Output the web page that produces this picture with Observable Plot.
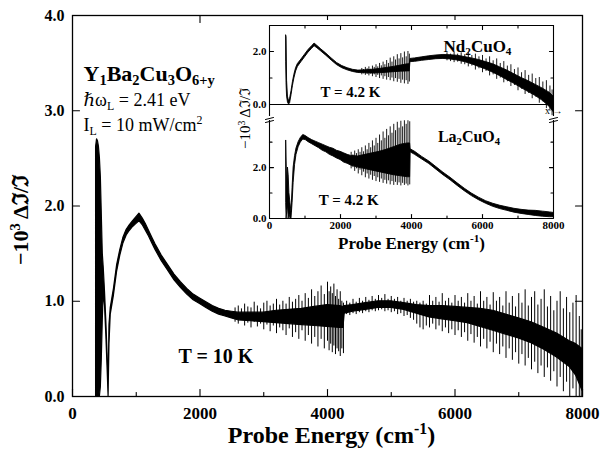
<!DOCTYPE html>
<html><head><meta charset="utf-8">
<script src="https://cdn.jsdelivr.net/npm/d3@7"></script>
<script src="https://cdn.jsdelivr.net/npm/@observablehq/plot@0.6"></script>
<style>
body{margin:0;background:#fff;}
#wrap{position:relative;width:600px;height:456px;overflow:hidden;background:#fff;}
#wrap svg{position:absolute;overflow:visible;}
</style></head><body><div id="wrap"></div>
<script>
// ---------------- main panel: Y1Ba2Cu3O6+y, T = 10 K (core band) ----------------
const mainX  = [370,385,400,415,430,445,460,475,490,510,530,550,566,580,600,650,700,750,800,850,900,950,1000,1050,1100,1150,1200,1250,1300,1350,1400,1450,1500,1600,1700,1800,1900,2000,2100,2200,2300,2400,2500,2600,2800,3000,3200,3400,3600,3800,4000,4200,4250,4270,4400,4600,4800,5000,5200,5400,5600,5800,6000,6200,6400,6600,6800,7000,7200,7400,7600,7800,7900,8000];
const mainLo = [0,0,0,0,0,0.1,0.4,0.8,1.1,0.95,0.65,0.3,0,0.55,0.86,1.06,1.31,1.48,1.61,1.69,1.74,1.78,1.81,1.84,1.8,1.74,1.68,1.61,1.54,1.48,1.42,1.37,1.32,1.22,1.14,1.07,1.01,0.97,0.93,0.89,0.86,0.84,0.82,0.8,0.79,0.78,0.77,0.76,0.75,0.74,0.73,0.72,0.72,0.87,0.89,0.91,0.93,0.93,0.91,0.87,0.83,0.81,0.79,0.77,0.73,0.69,0.65,0.61,0.56,0.49,0.41,0.31,0.22,0.06];
const mainHi = [2.62,2.7,2.68,2.62,2.5,2.3,1.9,1.5,1.35,1.1,0.8,0.45,0.08,0.75,0.93,1.13,1.38,1.54,1.67,1.75,1.8,1.84,1.88,1.92,1.87,1.81,1.74,1.67,1.6,1.54,1.48,1.43,1.38,1.28,1.2,1.13,1.07,1.03,0.99,0.95,0.92,0.9,0.89,0.88,0.88,0.88,0.9,0.91,0.92,0.94,0.96,0.95,0.94,0.95,0.96,0.98,1.0,1.0,0.98,0.96,0.95,0.95,0.94,0.93,0.92,0.9,0.86,0.82,0.78,0.72,0.66,0.58,0.55,0.5];
// noise spikes of the main trace
const spikeX  = [2550,2600,2650,2700,2750,2800,2850,2900,2950,3000,3050,3100,3150,3200,3250,3300,3350,3400,3450,3500,3550,3600,3650,3700,3750,3800,3850,3900,3950,4000,4025,4050,4075,4100,4125,4150,4175,4200,4225,4250,4300,4350,4400,4450,4500,4550,4600,4650,4700,4750,4800,4850,4900,4950,5000,5050,5100,5150,5200,5250,5300,5350,5400,5450,5500,5550,5600,5650,5700,5750,5800,5850,5900,5950,6000,6050,6100,6150,6200,6250,6300,6350,6400,6450,6500,6550,6600,6650,6700,6750,6800,6850,6900,6950,7000,7050,7100,7150,7200,7250,7300,7350,7400,7450,7500,7550,7600,7650,7700,7750,7800,7850,7900,7950,7980];
const spikeLo = [0.78,0.76,0.8,0.74,0.77,0.72,0.78,0.73,0.76,0.7,0.75,0.68,0.74,0.66,0.72,0.69,0.64,0.71,0.62,0.67,0.6,0.69,0.58,0.64,0.55,0.62,0.52,0.6,0.5,0.58,0.48,0.55,0.46,0.53,0.44,0.5,0.47,0.42,0.5,0.45,0.86,0.85,0.87,0.86,0.88,0.87,0.89,0.88,0.9,0.89,0.9,0.91,0.89,0.9,0.88,0.89,0.86,0.87,0.84,0.85,0.82,0.8,0.76,0.72,0.7,0.74,0.72,0.76,0.7,0.74,0.68,0.72,0.66,0.7,0.64,0.69,0.62,0.67,0.58,0.65,0.56,0.62,0.52,0.6,0.5,0.57,0.46,0.55,0.44,0.52,0.4,0.5,0.38,0.46,0.34,0.44,0.32,0.4,0.28,0.36,0.24,0.32,0.2,0.3,0.16,0.26,0.1,0.2,0.05,0.15,0,0.08,0,0,0];
const spikeHi = [0.93,0.95,0.92,0.97,0.94,0.93,0.99,0.95,0.92,0.98,1.0,0.95,0.97,1.02,0.96,1.0,0.97,1.04,0.99,1.02,1.06,1.0,1.08,1.03,1.12,1.05,1.1,1.16,1.07,1.2,1.1,1.15,1.08,1.18,1.05,1.12,1.02,1.1,1.0,0.98,1.0,0.98,1.02,0.99,1.03,1.0,1.04,1.01,1.05,1.02,1.06,1.03,1.07,1.02,1.05,1.02,1.04,1.0,1.03,1.0,1.02,0.99,1.0,0.98,1.0,0.97,1.06,1.0,1.04,0.99,1.08,1.0,1.03,0.98,1.06,1.0,1.04,0.98,1.08,1.0,1.05,0.97,1.1,1.0,1.04,0.96,1.09,1.0,1.04,0.95,1.1,0.98,1.05,0.94,1.08,0.98,1.12,0.95,1.04,1.1,0.96,1.02,1.12,0.94,1.05,0.9,1.0,1.1,0.92,1.04,0.88,0.98,1.06,0.84,0.7];

const mainXDomain = [0, 8000];
const mainYDomain = [0, 4];
const mainXMajor = [0, 2000, 4000, 6000, 8000];
const mainXMinor = [1000, 3000, 5000, 7000];
const mainXTop   = [2000, 4000, 6000];
const mainYMajor = [0, 1, 2, 3, 4];
const mainYInner = [1, 2, 3];

// ---------------- inset: Nd2CuO4 (upper) ----------------
const ndX  = [470,480,495,520,550,580,620,660,700,750,800,900,1000,1100,1200,1270,1350,1450,1600,1750,1900,2050,2200,2350,2500,2700,2900,3100,3300,3500,3700,3900,3950,3970,4100,4300,4500,4700,4900,5100,5300,5500,5700,5900,6100,6300,6500,6700,6900,7100,7300,7500,7700,7900,8000];
const ndLo = [1.6,0.8,0.3,0.08,0.0,0.05,0.35,0.7,0.98,1.25,1.42,1.6,1.78,1.96,2.1,2.2,2.12,2.01,1.84,1.66,1.49,1.37,1.29,1.23,1.19,1.18,1.17,1.18,1.2,1.22,1.24,1.25,1.25,1.6,1.61,1.65,1.68,1.71,1.72,1.7,1.66,1.6,1.52,1.42,1.32,1.2,1.07,0.92,0.78,0.62,0.47,0.32,0.14,-0.1,-0.28];
const ndHi = [2.6,2.55,0.9,0.3,0.12,0.22,0.5,0.85,1.12,1.38,1.53,1.7,1.88,2.06,2.2,2.3,2.21,2.09,1.92,1.74,1.57,1.45,1.37,1.31,1.28,1.29,1.31,1.34,1.38,1.42,1.47,1.52,1.52,1.72,1.74,1.78,1.82,1.85,1.87,1.86,1.84,1.79,1.74,1.68,1.6,1.52,1.4,1.28,1.14,1.0,0.88,0.74,0.6,0.44,0.3];
const ndSpikeX  = [2600,2650,2700,2750,2800,2850,2900,2950,3000,3050,3100,3150,3200,3250,3300,3350,3400,3450,3500,3550,3600,3650,3700,3750,3800,3850,3900,3940,5000,5100,5200,5300,5400,5500,5600,5700,5800,5900,6000,6100,6200,6300,6400,6500,6600,6700,6800,6900,7000,7100,7200,7300,7400,7500,7600,7700,7800,7900,7960];
const ndSpikeLo = [1.12,1.16,1.1,1.14,1.08,1.15,1.05,1.12,1.02,1.1,0.98,1.08,0.95,1.05,0.92,1.02,0.9,1.0,0.86,0.98,0.84,0.95,0.8,0.92,0.78,0.9,0.76,0.85,1.65,1.62,1.58,1.6,1.52,1.5,1.42,1.45,1.3,1.35,1.2,1.25,1.08,1.12,0.95,1.0,0.82,0.86,0.68,0.72,0.52,0.58,0.38,0.42,0.22,0.28,0.05,0.1,-0.15,-0.25,-0.42];
const ndSpikeHi = [1.36,1.32,1.4,1.35,1.42,1.33,1.45,1.4,1.5,1.42,1.55,1.46,1.6,1.5,1.66,1.55,1.75,1.6,1.8,1.68,1.88,1.72,1.92,1.76,1.98,1.8,2.0,1.9,1.95,1.9,1.98,1.9,1.95,1.88,1.96,1.85,1.9,1.8,1.85,1.72,1.8,1.65,1.72,1.55,1.62,1.45,1.5,1.32,1.38,1.2,1.28,1.1,1.15,0.98,1.02,0.85,0.9,0.7,0.55];

// ---------------- inset: La2CuO4 (lower) ----------------
const laX  = [470,482,500,520,540,560,590,620,650,680,720,760,820,880,950,1020,1100,1200,1300,1400,1500,1600,1700,1800,1900,2000,2100,2200,2300,2500,2700,2900,3100,3300,3500,3700,3900,3960,3975,4100,4300,4500,4700,4900,5100,5300,5500,5700,5900,6100,6300,6500,6700,6900,7100,7300,7500,7700,7900,8000];
const laLo = [0.6,0.0,0.3,0.5,0.0,0.2,0.0,0.0,0.6,1.4,2.1,2.5,2.8,2.98,3.1,3.08,3.0,2.92,2.84,2.76,2.66,2.6,2.5,2.44,2.36,2.3,2.2,2.15,2.08,2.0,1.94,1.88,1.82,1.76,1.7,1.66,1.62,1.62,2.6,2.5,2.32,2.14,1.92,1.7,1.5,1.28,1.07,0.88,0.72,0.58,0.46,0.37,0.3,0.23,0.18,0.14,0.1,0.07,0.05,0.05];
const laHi = [3.05,2.2,1.2,2.0,1.7,1.0,0.6,0.25,1.2,2.0,2.45,2.75,3.0,3.16,3.28,3.24,3.16,3.08,3.02,2.96,2.9,2.84,2.78,2.74,2.66,2.62,2.56,2.5,2.46,2.44,2.5,2.56,2.62,2.7,2.8,2.9,2.95,2.95,2.72,2.62,2.42,2.24,2.02,1.8,1.6,1.38,1.17,0.98,0.82,0.68,0.58,0.5,0.44,0.38,0.34,0.31,0.3,0.27,0.24,0.22];
const laSpikeX  = [2300,2350,2400,2450,2500,2550,2600,2650,2700,2750,2800,2850,2900,2950,3000,3050,3100,3150,3200,3250,3300,3350,3400,3450,3500,3550,3600,3650,3700,3750,3800,3850,3900,3950];
const laSpikeLo = [1.95,2.0,1.85,1.95,1.75,1.9,1.68,1.82,1.6,1.75,1.55,1.7,1.5,1.65,1.45,1.6,1.42,1.55,1.38,1.5,1.35,1.48,1.32,1.45,1.3,1.42,1.3,1.4,1.28,1.38,1.3,1.35,1.28,1.32];
const laSpikeHi = [2.6,2.5,2.65,2.55,2.7,2.6,2.78,2.62,2.85,2.7,2.95,2.78,3.05,2.85,3.15,2.95,3.28,3.05,3.4,3.15,3.5,3.25,3.6,3.35,3.7,3.45,3.78,3.55,3.82,3.6,3.84,3.7,3.84,3.8];

const insetXDomain = [0, 8000];
const ndYDomain = [-0.45, 2.98];
const laYDomain = [0, 3.85];
const insetXMajor = [0, 2000, 4000, 6000, 8000];
const insetXInner = [2000, 4000, 6000];
const insetXMinor = [1000, 3000, 5000, 7000];
const ndYMajor = [0, 2];
const laYMajor = [0, 2];
const ndYMinor = [1];
const laYMinor = [1, 3];

// ---------------- texts ----------------
const FONT = "'Liberation Serif', 'DejaVu Serif', serif";
const yLabel = "−10^{3} Δℑ/ℑ";
const xLabel = "Probe Energy (cm^{-1})";

// ---------------- helpers ----------------
const toRows = (X, L, H) => X.map((x, i) => ({x, lo: L[i], hi: H[i]}));
const tickShape = {draw(ctx, l) { ctx.moveTo(0, 0); ctx.lineTo(0, -l); }};
const breakShape = {draw(ctx, l) { ctx.moveTo(-l, 1); ctx.lineTo(l, -1); ctx.moveTo(-l, 4); ctx.lineTo(l, 2); }};
function vticks(data, opts) {
  return Plot.vector(data, {anchor: "start", shape: tickShape, stroke: "black", strokeWidth: 1.1, ...opts});
}
function esc(s) { return s.replace(/&/g, "&amp;").replace(/</g, "&lt;"); }
function richMarkup(str, size) {
  const segs = []; const re = /([_^])\{([^}]*)\}/g; let last = 0, m;
  while ((m = re.exec(str))) {
    if (m.index > last) segs.push({t: str.slice(last, m.index), s: 0, f: size});
    segs.push({t: m[2], s: m[1] === "_" ? 0.22 * size : -0.36 * size, f: 0.66 * size});
    last = re.lastIndex;
  }
  if (last < str.length) segs.push({t: str.slice(last), s: 0, f: size});
  let prev = 0, out = "";
  for (const g of segs) { out += `<tspan dy="${(g.s - prev).toFixed(2)}" font-size="${g.f.toFixed(1)}">${esc(g.t)}</tspan>`; prev = g.s; }
  return out;
}
function richify(svg) {
  svg.querySelectorAll("text").forEach(t => {
    const s = t.textContent;
    if (/[_^]\{/.test(s)) {
      const fs = parseFloat(t.getAttribute("font-size") || t.parentNode.getAttribute("font-size") || getComputedStyle(t).fontSize);
      t.innerHTML = richMarkup(s, fs);
    }
  });
}
function place(svg, left, top) {
  svg.style.left = left + "px"; svg.style.top = top + "px";
  document.getElementById("wrap").appendChild(svg);
  richify(svg);
}

// ---------------- main plot ----------------
const main = Plot.plot({
  width: 600, height: 456,
  marginLeft: 72, marginRight: 18, marginTop: 15, marginBottom: 60,
  x: {domain: mainXDomain},
  y: {domain: mainYDomain},
  style: {fontFamily: FONT, background: "white", color: "black", overflow: "visible"},
  marks: [
    Plot.areaY(toRows(mainX, mainLo, mainHi), {x: "x", y1: "lo", y2: "hi", fill: "black", stroke: "black", strokeWidth: 1.2}),
    Plot.ruleX(toRows(spikeX, spikeLo, spikeHi), {x: "x", y1: "lo", y2: "hi", stroke: "black", strokeWidth: 1}),
    Plot.frame({stroke: "black", strokeWidth: 1.3}),
    vticks(mainXMajor, {x: d => d, y: mainYDomain[0], length: 7, rotate: 0}),
    vticks(mainXMinor, {x: d => d, y: mainYDomain[0], length: 4, rotate: 0}),
    vticks(mainXTop, {x: d => d, y: mainYDomain[1], length: 7, rotate: 180}),
    vticks(mainYInner, {x: mainXDomain[0], y: d => d, length: 7, rotate: 90}),
    vticks(mainYInner, {x: mainXDomain[1], y: d => d, length: 7, rotate: -90}),
    Plot.axisX({ticks: mainXMajor, tickSize: 0, tickPadding: 10, tickFormat: d => String(d), fontSize: 17, fontWeight: "bold", label: null}),
    Plot.axisY({ticks: mainYMajor, tickSize: 0, tickPadding: 8, tickFormat: d => d.toFixed(1), fontSize: 16, fontWeight: "bold", label: null}),
    Plot.text([xLabel], {frameAnchor: "bottom", textAnchor: "middle", dy: 46, dx: 4, fontSize: 24, fontWeight: "bold"}),
    Plot.text([yLabel], {frameAnchor: "left", textAnchor: "middle", lineAnchor: "middle", rotate: -90, dx: -52, dy: 14, fontSize: 22, fontWeight: "bold"}),
    Plot.text(["Y_{1}Ba_{2}Cu_{3}O_{6+y}"], {x: 173, y: 3.39, textAnchor: "start", fontSize: 22, fontWeight: "bold"}),
    Plot.text(["ℏω_{L} = 2.41 eV"], {x: 173, y: 3.11, textAnchor: "start", fontSize: 18}),
    Plot.text(["I_{L} = 10 mW/cm^{2}"], {x: 173, y: 2.85, textAnchor: "start", fontSize: 18}),
    Plot.text(["T = 10 K"], {x: 2250, y: 0.42, fontSize: 20, fontWeight: "bold"})
  ]
});
place(main, 0, 0);

// ---------------- inset upper ----------------
const insetStyle = {fontFamily: FONT, background: "white", color: "black", overflow: "visible"};
const upper = Plot.plot({
  width: 326, height: 96,
  marginLeft: 30, marginRight: 12, marginTop: 5, marginBottom: 0,
  x: {domain: insetXDomain},
  y: {domain: ndYDomain},
  style: insetStyle,
  marks: [
    Plot.areaY(toRows(ndX, ndLo, ndHi), {x: "x", y1: "lo", y2: "hi", fill: "black", stroke: "black", strokeWidth: 0.9}),
    Plot.ruleX(toRows(ndSpikeX, ndSpikeLo, ndSpikeHi), {x: "x", y1: "lo", y2: "hi", stroke: "black", strokeWidth: 0.9}),
    Plot.ruleY([0], {stroke: "black", strokeWidth: 1.1}),
    Plot.ruleY([ndYDomain[1]], {stroke: "black", strokeWidth: 1.1}),
    Plot.ruleX(insetXDomain, {stroke: "black", strokeWidth: 1.1}),
    vticks(insetXInner, {x: d => d, y: ndYDomain[1], length: 4, rotate: 180}),
    vticks(insetXMinor, {x: d => d, y: ndYDomain[1], length: 2.5, rotate: 180}),
    vticks(ndYMajor, {x: insetXDomain[0], y: d => d, length: 4, rotate: 90}),
    vticks(ndYMinor, {x: insetXDomain[0], y: d => d, length: 2.5, rotate: 90}),
    vticks(ndYMajor, {x: insetXDomain[1], y: d => d, length: 4, rotate: -90}),
    vticks(ndYMinor, {x: insetXDomain[1], y: d => d, length: 2.5, rotate: -90}),
    Plot.axisY({ticks: ndYMajor, tickSize: 0, tickPadding: 3, tickFormat: d => d.toFixed(1), fontSize: 11, fontWeight: "bold", label: null}),
    Plot.text(["Nd_{2}CuO_{4}"], {x: 5860, y: 2.2, fontSize: 17, fontWeight: "bold"}),
    Plot.text(["T = 4.2 K"], {x: 2280, y: 0.45, fontSize: 15, fontWeight: "bold"})
  ]
});
place(upper, 239, 20);

// ---------------- inset lower ----------------
const lower = Plot.plot({
  width: 326, height: 142,
  marginLeft: 30, marginRight: 12, marginTop: 4, marginBottom: 40,
  x: {domain: insetXDomain},
  y: {domain: laYDomain},
  style: insetStyle,
  marks: [
    Plot.areaY(toRows(laX, laLo, laHi), {x: "x", y1: "lo", y2: "hi", fill: "black", stroke: "black", strokeWidth: 0.9}),
    Plot.ruleX(toRows(laSpikeX, laSpikeLo, laSpikeHi), {x: "x", y1: "lo", y2: "hi", stroke: "black", strokeWidth: 0.9}),
    Plot.ruleY([0], {stroke: "black", strokeWidth: 1.1}),
    Plot.ruleX(insetXDomain, {stroke: "black", strokeWidth: 1.1}),
    Plot.vector(insetXDomain, {x: d => d, y: laYDomain[1], length: 4, rotate: 0, anchor: "middle", shape: breakShape, stroke: "black", strokeWidth: 1, dy: -4}),
    vticks(insetXInner, {x: d => d, y: laYDomain[0], length: 4, rotate: 0}),
    vticks(insetXMinor, {x: d => d, y: laYDomain[0], length: 2.5, rotate: 0}),
    vticks(laYMajor, {x: insetXDomain[0], y: d => d, length: 4, rotate: 90}),
    vticks(laYMinor, {x: insetXDomain[0], y: d => d, length: 2.5, rotate: 90}),
    vticks(laYMajor, {x: insetXDomain[1], y: d => d, length: 4, rotate: -90}),
    vticks(laYMinor, {x: insetXDomain[1], y: d => d, length: 2.5, rotate: -90}),
    Plot.axisX({ticks: insetXMajor, tickSize: 0, tickPadding: 3, tickFormat: d => String(d), fontSize: 11, fontWeight: "bold", label: null}),
    Plot.axisY({ticks: laYMajor, tickSize: 0, tickPadding: 3, tickFormat: d => d.toFixed(1), fontSize: 11, fontWeight: "bold", label: null}),
    Plot.text([xLabel], {frameAnchor: "bottom", textAnchor: "middle", dy: 30, fontSize: 17, fontWeight: "bold"}),
    Plot.text([yLabel], {frameAnchor: "top-left", textAnchor: "middle", lineAnchor: "middle", rotate: -90, dx: -24, dy: -2, fontSize: 15}),
    Plot.text(["La_{2}CuO_{4}"], {x: 5620, y: 3.22, fontSize: 16, fontWeight: "bold"}),
    Plot.text(["T = 4.2 K"], {x: 2230, y: 0.7, fontSize: 15, fontWeight: "bold"})
  ]
});
place(lower, 239, 116);
</script>
</body></html>
